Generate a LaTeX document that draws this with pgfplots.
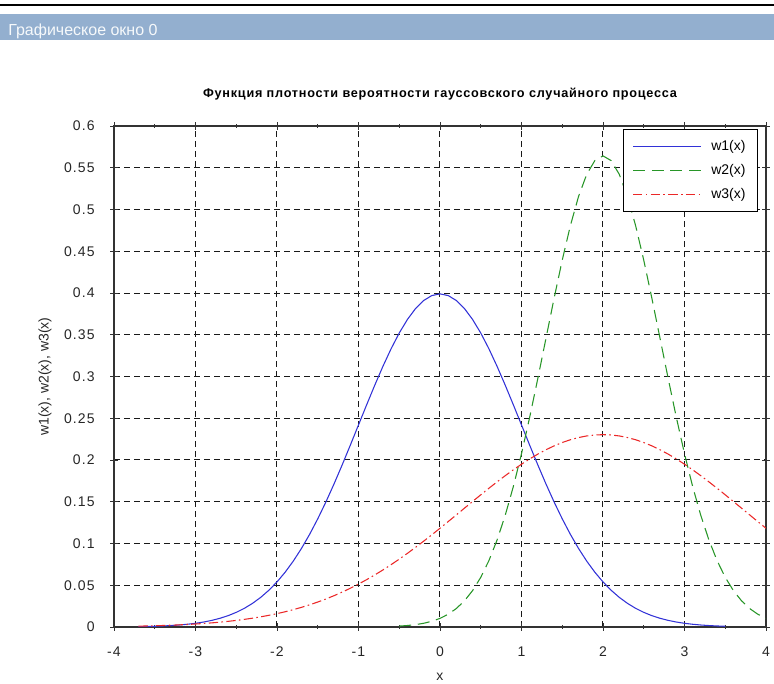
\documentclass[border=0pt]{standalone}
\usepackage{fontspec}
\setmainfont{Liberation Sans}
\usepackage{pgfplots}
\pgfplotsset{compat=1.18}
\usepackage{pgfplotstable}

\definecolor{barblue}{RGB}{147,175,207}
\definecolor{cblue}{RGB}{50,50,215}
\definecolor{cgreen}{RGB}{40,150,40}
\definecolor{cred}{RGB}{235,40,40}

% w1(x)
\pgfplotstableread{
x y
-3.7 0.00042
-3.6 0.00061
-3.5 0.00087
-3.4 0.00123
-3.3 0.00172
-3.2 0.00238
-3.1 0.00327
-3.0 0.00443
-2.9 0.00595
-2.8 0.00792
-2.7 0.01042
-2.6 0.01358
-2.5 0.01753
-2.4 0.02239
-2.3 0.02833
-2.2 0.03547
-2.1 0.04398
-2.0 0.05399
-1.9 0.06562
-1.8 0.07895
-1.7 0.09405
-1.6 0.11092
-1.5 0.12952
-1.4 0.14973
-1.3 0.17137
-1.2 0.19419
-1.1 0.21785
-1.0 0.24197
-0.9 0.26609
-0.8 0.28969
-0.7 0.31225
-0.6 0.33322
-0.5 0.35207
-0.4 0.36827
-0.3 0.38139
-0.2 0.39104
-0.1 0.39695
0.0 0.39894
0.1 0.39695
0.2 0.39104
0.3 0.38139
0.4 0.36827
0.5 0.35207
0.6 0.33322
0.7 0.31225
0.8 0.28969
0.9 0.26609
1.0 0.24197
1.1 0.21785
1.2 0.19419
1.3 0.17137
1.4 0.14973
1.5 0.12952
1.6 0.11092
1.7 0.09405
1.8 0.07895
1.9 0.06562
2.0 0.05399
2.1 0.04398
2.2 0.03547
2.3 0.02833
2.4 0.02239
2.5 0.01753
2.6 0.01358
2.7 0.01042
2.8 0.00792
2.9 0.00595
3.0 0.00443
3.1 0.00327
3.2 0.00238
3.3 0.00172
3.4 0.00123
3.5 0.00087
}\wone

% w2(x)
\pgfplotstableread{
x y
-0.5 0.00109
-0.4 0.00178
-0.3 0.00284
-0.2 0.00446
-0.1 0.00686
0.0 0.01033
0.1 0.01526
0.2 0.02210
0.3 0.03136
0.4 0.04361
0.5 0.05947
0.6 0.07947
0.7 0.10411
0.8 0.13367
0.9 0.16824
1.0 0.20755
1.1 0.25099
1.2 0.29749
1.3 0.34564
1.4 0.39362
1.5 0.43939
1.6 0.48077
1.7 0.51563
1.8 0.54207
1.9 0.55858
2.0 0.56419
2.1 0.55858
2.2 0.54207
2.3 0.51563
2.4 0.48077
2.5 0.43939
2.6 0.39362
2.7 0.34564
2.8 0.29749
2.9 0.25099
3.0 0.20755
3.1 0.16824
3.2 0.13367
3.3 0.10411
3.4 0.07947
3.5 0.05947
3.6 0.04361
3.7 0.03136
3.8 0.02210
3.9 0.01526
4.0 0.01033
}\wtwo

% w3(x)
\pgfplotstableread{
x y
-3.7 0.00102
-3.6 0.00124
-3.5 0.00149
-3.4 0.00179
-3.3 0.00213
-3.2 0.00254
-3.1 0.00302
-3.0 0.00357
-2.9 0.00421
-2.8 0.00495
-2.7 0.00580
-2.6 0.00677
-2.5 0.00788
-2.4 0.00914
-2.3 0.01057
-2.2 0.01218
-2.1 0.01398
-2.0 0.01600
-1.9 0.01826
-1.8 0.02076
-1.7 0.02352
-1.6 0.02656
-1.5 0.02990
-1.4 0.03354
-1.3 0.03751
-1.2 0.04180
-1.1 0.04643
-1.0 0.05139
-0.9 0.05671
-0.8 0.06236
-0.7 0.06834
-0.6 0.07465
-0.5 0.08128
-0.4 0.08819
-0.3 0.09538
-0.2 0.10281
-0.1 0.11044
0.0 0.11826
0.1 0.12620
0.2 0.13422
0.3 0.14229
0.4 0.15033
0.5 0.15830
0.6 0.16614
0.7 0.17379
0.8 0.18118
0.9 0.18826
1.0 0.19497
1.1 0.20124
1.2 0.20703
1.3 0.21227
1.4 0.21692
1.5 0.22093
1.6 0.22427
1.7 0.22690
1.8 0.22880
1.9 0.22995
2.0 0.23033
2.1 0.22995
2.2 0.22880
2.3 0.22690
2.4 0.22427
2.5 0.22093
2.6 0.21692
2.7 0.21227
2.8 0.20703
2.9 0.20124
3.0 0.19497
3.1 0.18826
3.2 0.18118
3.3 0.17379
3.4 0.16614
3.5 0.15830
3.6 0.15033
3.7 0.14229
3.8 0.13422
3.9 0.12620
4.0 0.11826
}\wthree

\begin{document}
\begin{tikzpicture}
  \path[use as bounding box] (0,0) rectangle (580.5pt,513pt);
  % window title bar
  \draw[black, line width=1.1pt] (0,509.25pt) -- (580.5pt,509.25pt);
  \fill[barblue] (0,483pt) rectangle (580.5pt,502.5pt);
  \node[anchor=base west, inner sep=0pt, text=white!92!barblue,
        font=\fontsize{12}{14}\selectfont] at (6pt,486.5pt) {Графическое окно 0};

  \begin{axis}[
    at={(85.5pt,42.75pt)}, anchor=south west,
    scale only axis,
    width=489pt, height=375.75pt,
    xmin=-4, xmax=4, ymin=0, ymax=0.6,
    xtick={-4,-3,...,4},
    ytick={0,0.05,...,0.6},
    minor x tick num=1,
    tick align=center,
    major tick length=6pt,
    minor tick length=3pt,
    every tick/.style={black!80, line width=0.7pt},
    axis line style={black!80, line width=0.8pt},
    grid=major,
    major grid style={black!90, line width=0.75pt, dash pattern=on 4.5pt off 3pt},
    /pgf/number format/assume math mode=true,
    scaled y ticks=false,
    yticklabel style={/pgf/number format/fixed, /pgf/number format/precision=2, xshift=-8pt},
    xticklabel style={yshift=-8pt},
    ticklabel style={font=\fontsize{10.5}{12}\selectfont\addfontfeatures{LetterSpace=8}, text=black!85},
    title={Функция плотности вероятности гауссовского случайного процесса},
    title style={at={(0.5,1)}, anchor=base, yshift=15.75pt,
                 font=\fontsize{9.5}{11}\selectfont\bfseries\addfontfeatures{LetterSpace=6}},
    ylabel={w1(x), w2(x), w3(x)},
    ylabel style={at={(axis description cs:-0.106,0.5)}, anchor=center,
                  font=\fontsize{10.5}{12}\selectfont, text=black!85},
    xlabel={x},
    xlabel style={at={(axis description cs:0.5,-0.1)}, anchor=center,
                  font=\fontsize{10.5}{12}\selectfont, text=black!85},
    legend style={at={(0.988,0.994)}, anchor=north east,
                  font=\fontsize{10.5}{12}\selectfont, line width=1pt,
                  row sep=5pt, inner xsep=7pt, inner ysep=6pt,
                  /tikz/every odd column/.append style={column sep=5pt}},
    legend cell align=left,
    legend image post style={xscale=3},
  ]
  \addplot[color=cblue, line width=0.8pt] table {\wone};
  \addlegendentry{w1(x)}
  \addplot[color=cgreen, line width=0.8pt, dash pattern=on 9pt off 5pt] table {\wtwo};
  \addlegendentry{w2(x)}
  \addplot[color=cred, line width=0.8pt, dash pattern=on 7pt off 2.5pt on 1.2pt off 2.5pt] table {\wthree};
  \addlegendentry{w3(x)}
  \end{axis}
\end{tikzpicture}
\end{document}
